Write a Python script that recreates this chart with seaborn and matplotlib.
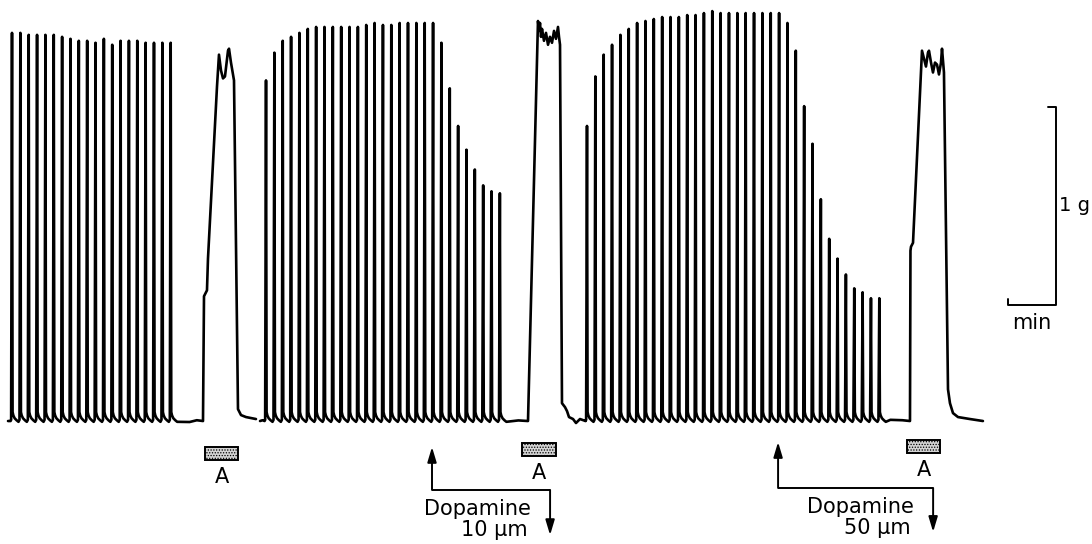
import numpy as np
import pandas as pd
import matplotlib
matplotlib.use("Agg")
import matplotlib.pyplot as plt
from matplotlib.patches import Rectangle
import seaborn as sns

# ---------------------------------------------------------------- data
# twitch amplitudes (g) of each electrically evoked contraction
control_twitches = [1.96, 1.96, 1.95, 1.95, 1.95, 1.95, 1.94, 1.93, 1.92, 1.92,
                    1.91, 1.93, 1.90, 1.92, 1.92, 1.92, 1.91, 1.91, 1.91, 1.91]
dopa10_twitches = [1.72, 1.86, 1.92, 1.94, 1.96, 1.98, 1.99, 1.99, 1.99, 1.99,
                   1.99, 1.99, 2.00, 2.01, 2.00, 2.00, 2.01, 2.01, 2.01, 2.01,
                   2.01, 1.91, 1.68, 1.49, 1.37, 1.27, 1.19, 1.16, 1.15]
dopa50_twitches = [1.49, 1.74, 1.85, 1.90, 1.95, 1.98, 2.01, 2.02, 2.03, 2.04,
                   2.04, 2.04, 2.05, 2.05, 2.06, 2.07, 2.06, 2.06, 2.06, 2.06,
                   2.06, 2.06, 2.06, 2.06, 2.01, 1.87, 1.59, 1.40, 1.12, 0.92,
                   0.82, 0.74, 0.67, 0.65, 0.62, 0.62]

# time of the first twitch in each run (min) and stimulation period (min)
twitch_onsets = [0.0, 5.292, 11.979]
stim_period = 0.174

# contracture to agonist A: time after onset (min), tension (g)
a1_time = [0.0, 0.021, 0.083, 0.104, 0.292, 0.333, 0.375, 0.417, 0.458, 0.521,
           0.542, 0.583, 0.604, 0.646, 0.729, 0.792, 0.896, 1.104]
a1_force = [0.0, 0.63, 0.66, 0.82, 1.69, 1.85, 1.77, 1.73, 1.74, 1.87,
            1.88, 1.81, 1.78, 1.72, 0.06, 0.03, 0.02, 0.01]
a2_time = [0.0, 0.208, 0.229, 0.250, 0.271, 0.292, 0.333, 0.375, 0.417, 0.458,
           0.500, 0.542, 0.583, 0.625, 0.646, 0.667, 0.708, 0.771, 0.813, 0.854,
           0.938, 1.0, 1.083, 1.2]
a2_force = [0.0, 2.02, 1.97, 2.01, 1.94, 1.98, 1.92, 1.96, 1.90, 1.94,
            1.91, 1.97, 1.93, 1.99, 1.94, 1.90, 0.09, 0.07, 0.05, 0.02,
            0.01, -0.01, 0.01, 0.0]
a3_time = [0.0, 0.010, 0.021, 0.063, 0.250, 0.292, 0.333, 0.375, 0.396, 0.438,
           0.479, 0.521, 0.563, 0.604, 0.646, 0.667, 0.708, 0.792, 0.833, 0.896,
           1.0, 1.25, 1.52]
a3_force = [0.0, 0.86, 0.88, 0.90, 1.87, 1.83, 1.79, 1.86, 1.87, 1.81,
            1.76, 1.81, 1.80, 1.75, 1.81, 1.88, 1.76, 0.16, 0.09, 0.04,
            0.02, 0.01, 0.0]
agonist_onsets = [3.979, 10.75, 18.708]

# agonist application bars (min) and dopamine add / wash-out times (min)
agonist_start = [4.02, 10.63, 18.65]
agonist_end = [4.71, 11.33, 19.33]
dopamine_add = [8.75, 15.96]
dopamine_wash = [11.21, 19.19]
dopamine_labels = ["10 \u00b5m", "50 \u00b5m"]

# ---------------------------------------------------------------- trace
# shape of one twitch: time offset from the peak (min), tension (g)
def twitch_points(t_peak, h):
    pts = [(-0.030, 0.000), (-0.018, 0.006), (0.0, h), (0.012, 0.045),
           (0.028, 0.028), (0.055, 0.014), (0.095, 0.004), (0.135, -0.004)]
    return [(t_peak + dt, y) for dt, y in pts]


def train(t0, heights):
    pts = []
    for i, h in enumerate(heights):
        pts += twitch_points(t0 + i * stim_period, h)
    return pts


def contracture(onset, times, forces):
    return [(onset + t, f) for t, f in zip(times, forces)]


rows = []
# first run: control twitches then agonist A
seg = [(-0.083, 0.0)] + train(twitch_onsets[0], control_twitches)
seg += [(3.70, -0.005), (3.85, 0.004)]
seg += contracture(agonist_onsets[0], a1_time, a1_force)
rows += [(t, f, 1) for t, f in seg]

# second run: dopamine 10, agonist A, dopamine 50, agonist A
seg = [(5.167, 0.0), (5.22, 0.004)] + train(twitch_onsets[1], dopa10_twitches)
seg += [(10.30, -0.004), (10.55, 0.003)]
seg += contracture(agonist_onsets[1], a2_time, a2_force)
seg += [(11.90, 0.004)]
seg += train(twitch_onsets[2], dopa50_twitches)
seg += [(18.30, 0.006), (18.55, 0.004)]
seg += contracture(agonist_onsets[2], a3_time, a3_force)
rows += [(t, f, 2) for t, f in seg]

df = pd.DataFrame(rows, columns=["time", "tension", "run"])

# ---------------------------------------------------------------- figure
sns.set_theme(style="white")
plt.rcParams["font.family"] = ["DejaVu Sans"]
plt.rcParams["text.color"] = "black"
plt.rcParams["hatch.linewidth"] = 0.6

fig = plt.figure(figsize=(10.92, 5.44), dpi=100)
ax = fig.add_axes([0, 0, 1, 1])
sns.lineplot(data=df, x="time", y="tension", units="run", estimator=None,
             sort=False, color="black", linewidth=1.9, ax=ax, legend=False)
ax.set_xlim(-0.25, 22.5)
ax.set_ylim(-0.621, 2.126)
ax.axis("off")

fs = 15
bar_tops = [-0.131, -0.111, -0.096]
for s, e, top in zip(agonist_start, agonist_end, bar_tops):
    ax.add_patch(Rectangle((s, top - 0.066), e - s, 0.066, facecolor="#d4d4d4",
                           edgecolor="black", hatch="......", linewidth=1.4))
    ax.text((s + e) / 2, top - 0.182, "A", ha="center", va="baseline",
            fontsize=fs, color="black")

head = "-|>,head_length=0.6,head_width=0.18"
arrow_levels = [(-0.131, -0.348, -0.576), (-0.106, -0.338, -0.56)]
for t_add, t_wash, lab, (tip, mid, low) in zip(dopamine_add, dopamine_wash,
                                                dopamine_labels, arrow_levels):
    ax.annotate("", xy=(t_add, tip), xytext=(t_add, mid),
                arrowprops=dict(arrowstyle=head, color="black", lw=1.4,
                                mutation_scale=15, shrinkA=0, shrinkB=0))
    ax.plot([t_add, t_wash], [mid, mid], color="black", lw=1.4,
            solid_capstyle="butt")
    ax.annotate("", xy=(t_wash, low), xytext=(t_wash, mid),
                arrowprops=dict(arrowstyle=head, color="black", lw=1.4,
                                mutation_scale=15, shrinkA=0, shrinkB=0))
    ax.text(t_wash - 0.40, mid - 0.125, "Dopamine", ha="right", va="baseline",
            fontsize=fs, color="black")
    ax.text(t_wash - 0.46, mid - 0.235, lab, ha="right", va="baseline",
            fontsize=fs, color="black")

# calibration: 1 g vertical, 1 min horizontal
xb, yb = 21.75, 0.586
ax.plot([xb - 0.17, xb, xb, xb - 1.0, xb - 1.0],
        [yb + 1.0, yb + 1.0, yb, yb, yb + 0.028], color="black", lw=1.4)
ax.text(xb + 0.06, yb + 0.5, "1 g", ha="left", va="center", fontsize=14,
        color="black")
ax.text(xb - 0.5, yb - 0.12, "min", ha="center", va="baseline", fontsize=fs,
        color="black")

fig.savefig("out.png", dpi=100, facecolor="white")
